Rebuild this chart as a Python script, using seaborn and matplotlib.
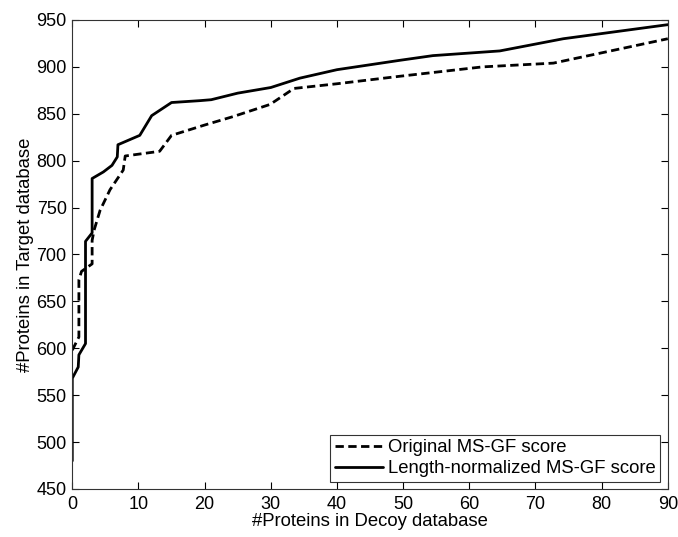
import matplotlib
matplotlib.use("Agg")
import matplotlib.pyplot as plt
import seaborn as sns
import pandas as pd

# Data
orig_x = [0, 1, 1, 1.4, 3, 3, 3.3, 4.2, 5.7, 7.7, 8, 13.2, 15, 20, 24.3, 29.9, 33.5, 40, 49.5, 62, 72.7, 90]
orig_y = [598, 612, 673, 682, 690, 715, 726, 747, 769, 790, 805, 810, 827, 838, 847, 860, 877, 882, 890, 900, 904, 930]

norm_x = [0, 0, 0.9, 1, 2, 2, 3, 3, 4.7, 6, 6.8, 6.9, 10.2, 12, 15, 19.3, 21, 25, 30, 34.4, 40, 49.5, 54.5, 64.6, 74.2, 90]
norm_y = [480, 568, 580, 593, 605, 714, 723, 781, 788, 795, 804, 817, 827, 848, 862, 864, 865, 872, 878, 888, 897, 907, 912, 917, 930, 945]

series_names = ["Original MS-GF score", "Length-normalized MS-GF score"]
x_ticks = [0, 10, 20, 30, 40, 50, 60, 70, 80, 90]
y_ticks = [450, 500, 550, 600, 650, 700, 750, 800, 850, 900, 950]

df = pd.concat([
    pd.DataFrame({"x": orig_x, "y": orig_y, "series": series_names[0]}),
    pd.DataFrame({"x": norm_x, "y": norm_y, "series": series_names[1]}),
], ignore_index=True)

sns.set_style("white")
plt.rcParams["font.family"] = ["Liberation Sans", "DejaVu Sans"]
plt.rcParams["text.color"] = "black"
plt.rcParams["axes.labelcolor"] = "black"
plt.rcParams["xtick.color"] = "black"
plt.rcParams["ytick.color"] = "black"

fig = plt.figure(figsize=(6.78, 5.37), dpi=100)
ax = fig.add_axes([0.1066, 0.0894, 0.8784, 0.8734])

sns.lineplot(data=df, x="x", y="y", style="series", hue="series",
             palette={series_names[0]: "black", series_names[1]: "black"},
             dashes={series_names[0]: (3, 1.6), series_names[1]: ""},
             estimator=None, sort=False, linewidth=2, ax=ax)

ax.set_xlim(0, 90)
ax.set_ylim(450, 950)
ax.set_xticks(x_ticks)
ax.set_yticks(y_ticks)
ax.tick_params(direction="in", length=5, width=0.8, top=True, right=True,
               bottom=True, left=True, labelsize=13, colors="black")
ax.tick_params(axis="x", pad=5)
ax.tick_params(axis="y", pad=4)
for s in ax.spines.values():
    s.set_visible(True)
    s.set_color("#333333")
    s.set_linewidth(0.8)

ax.set_xlabel("#Proteins in Decoy database", fontsize=13.3, labelpad=0, color="black")
ax.set_ylabel("#Proteins in Target database", fontsize=13.3, labelpad=2, color="black")

leg = ax.legend(loc="lower right", fontsize=13.3, frameon=True, fancybox=False,
                edgecolor="black", handlelength=2.6, handletextpad=0.3,
                borderpad=0.25, labelspacing=0.2, borderaxespad=0.4,
                title=None)
leg.get_frame().set_linewidth(0.8)
for t in leg.get_texts():
    t.set_color("black")

fig.savefig("out.png", dpi=100, facecolor="white")
